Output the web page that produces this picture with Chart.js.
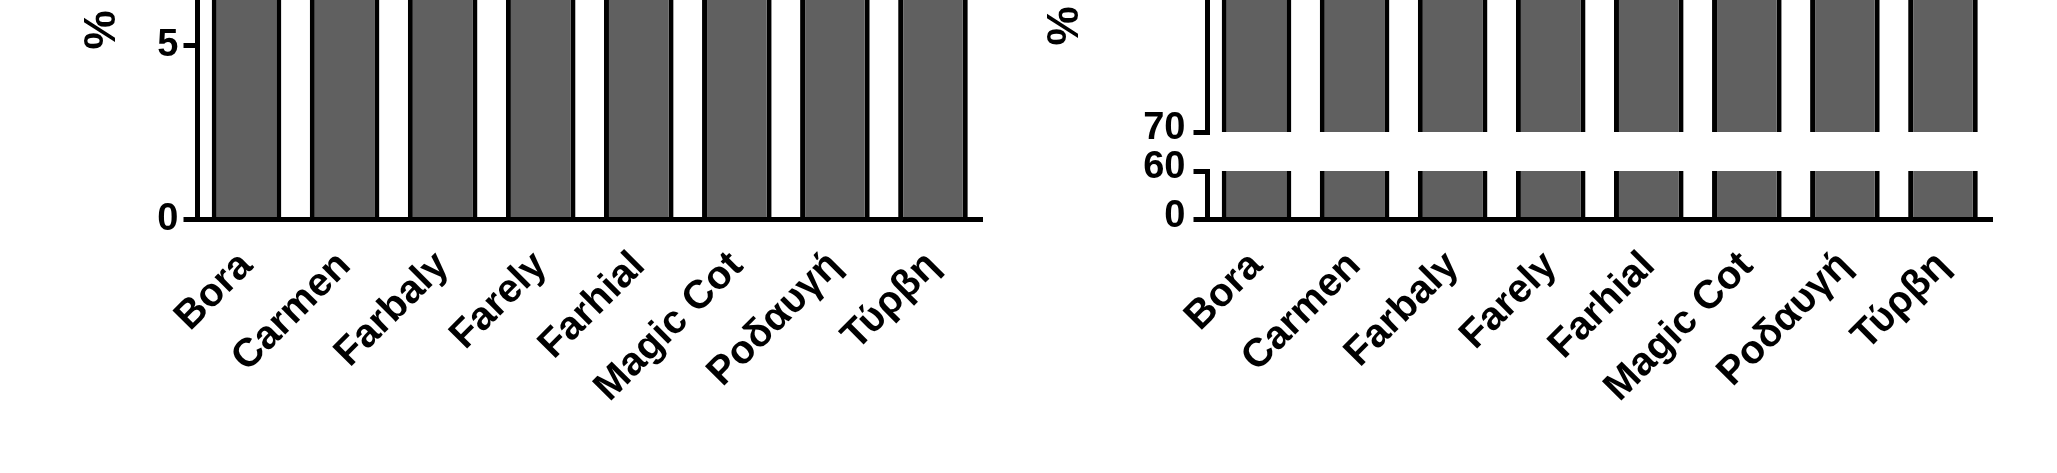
<!DOCTYPE html>
<html>
<head>
<meta charset="utf-8">
<script src="https://cdn.jsdelivr.net/npm/chart.js@4/dist/chart.umd.min.js"></script>
<style>
    html, body { margin: 0; padding: 0; background: #fff; }
    #wrap { position: relative; width: 2057px; height: 473px; overflow: hidden; background: #fff; }
    .panel { position: absolute; top: 0; }
</style>
</head>
<body>
<div id="wrap">
    <div class="panel" style="left:0"><canvas id="leftChart" width="1010" height="473"></canvas></div>
    <div class="panel" style="left:1010px"><canvas id="rightChart" width="1047" height="473"></canvas></div>
</div>
<script>
// Categories (same for both panels)
const categories = ['Bora', 'Carmen', 'Farbaly', 'Farely', 'Farhial', 'Magic Cot', 'Ροδαυγή', 'Τύρβη'];

// Left panel: bars run past the top of the cropped figure
const leftValues = [7.8, 8.4, 7.5, 8.9, 8.1, 7.2, 9.3, 8.6];
const leftTicks = [0, 5];
const leftMax = 6.29;

// Right panel: broken y axis (0-60 | 70-...)
const rightValues = [96.2, 97.5, 95.8, 98.1, 96.9, 94.7, 97.8, 96.4];
const lowTicks = [0, 60];
const highTicks = [70];
const lowRange = [0, 60];
const highRange = [70, 85];

const yTitle = '%';

const FONT = '"Liberation Sans", Arial, sans-serif';
const BAR_FILL = '#606060';

Chart.defaults.font.family = FONT;
Chart.defaults.color = '#000';
Chart.defaults.animation = false;

// draws the rotated "%" axis title
const yLabelPlugin = {
    id: 'yLabel',
    afterDraw(chart, args, opts) {
        const ctx = chart.ctx;
        ctx.save();
        ctx.font = 'bold 44px ' + FONT;
        ctx.fillStyle = '#000';
        ctx.textAlign = 'center';
        ctx.textBaseline = 'middle';
        ctx.translate(opts.x, opts.y);
        ctx.rotate(-Math.PI / 2);
        ctx.fillText(opts.text, 0, 0);
        ctx.restore();
    }
};

function fixTicks(values) {
    return function(scale) {
        scale.ticks = values.map(v => ({ value: v }));
    };
}

function xScale() {
    return {
        type: 'category',
        offset: true,
        grid: { display: false },
        border: { display: true, color: '#000', width: 5 },
        ticks: {
            autoSkip: false,
            maxRotation: 45,
            minRotation: 45,
            padding: 15,
            color: '#000',
            font: { size: 40, weight: 'bold' }
        },
        afterFit(scale) {
            scale.height = 473 - 219.5;
        }
    };
}

function yScale(min, max, ticks, pad, shift, extra) {
    return Object.assign({
        type: 'linear',
        position: 'left',
        min: min,
        max: max,
        grid: {
            display: true,
            drawOnChartArea: false,
            drawTicks: true,
            tickLength: 14,
            lineWidth: 5,
            color: '#000'
        },
        border: { display: true, color: '#000', width: 5 },
        ticks: {
            padding: pad,
            labelOffset: shift,
            color: '#000',
            font: { size: 38, weight: 'bold' }
        },
        afterBuildTicks: fixTicks(ticks),
        afterFit(scale) {
            scale.width = 197.5;
            scale.paddingTop = 0;
            scale.paddingBottom = 0;
        }
    }, extra || {});
}

new Chart(document.getElementById('leftChart'), {
    type: 'bar',
    data: {
        labels: categories,
        datasets: [{
            data: leftValues,
            backgroundColor: BAR_FILL,
            borderColor: '#000',
            borderWidth: 5,
            borderSkipped: 'start',
            categoryPercentage: 1,
            barPercentage: 0.71
        }]
    },
    options: {
        responsive: false,
        layout: { padding: { left: 0, right: 28, top: 0, bottom: 0 } },
        plugins: {
            legend: { display: false },
            tooltip: { enabled: false },
            yLabel: { text: yTitle, x: 103, y: 30 }
        },
        scales: {
            x: xScale(),
            y: yScale(0, leftMax, leftTicks, 5, 0)
        }
    },
    plugins: [yLabelPlugin]
});

new Chart(document.getElementById('rightChart'), {
    type: 'bar',
    data: {
        labels: categories,
        datasets: [
            {
                data: rightValues,
                yAxisID: 'yLow',
                grouped: false,
                backgroundColor: BAR_FILL,
                borderColor: '#000',
                borderWidth: 5,
                borderSkipped: 'start',
                categoryPercentage: 1,
                barPercentage: 0.71
            },
            {
                data: rightValues.map(v => [highRange[0], v]),
                yAxisID: 'yHigh',
                grouped: false,
                backgroundColor: BAR_FILL,
                borderColor: '#000',
                borderWidth: 5,
                borderSkipped: 'start',
                categoryPercentage: 1,
                barPercentage: 0.71
            }
        ]
    },
    options: {
        responsive: false,
        layout: { padding: { left: 0, right: 65, top: 0, bottom: 0 } },
        plugins: {
            legend: { display: false },
            tooltip: { enabled: false },
            yLabel: { text: yTitle, x: 56, y: 26 }
        },
        scales: {
            x: xScale(),
            yHigh: yScale(highRange[0], highRange[1], highTicks, 8, -3, {
                stack: 'broken', stackWeight: 132, weight: 3
            }),
            yGap: {
                type: 'linear',
                position: 'left',
                display: true,
                stack: 'broken',
                stackWeight: 39,
                weight: 2,
                grid: { display: false },
                border: { display: false },
                ticks: { display: false },
                afterFit(scale) {
                    scale.width = 197.5;
                    scale.paddingTop = 0;
                    scale.paddingBottom = 0;
                }
            },
            yLow: yScale(lowRange[0], lowRange[1], lowTicks, 8, -3, {
                stack: 'broken', stackWeight: 48.5, weight: 1
            })
        }
    },
    plugins: [yLabelPlugin]
});
</script>
</body>
</html>
